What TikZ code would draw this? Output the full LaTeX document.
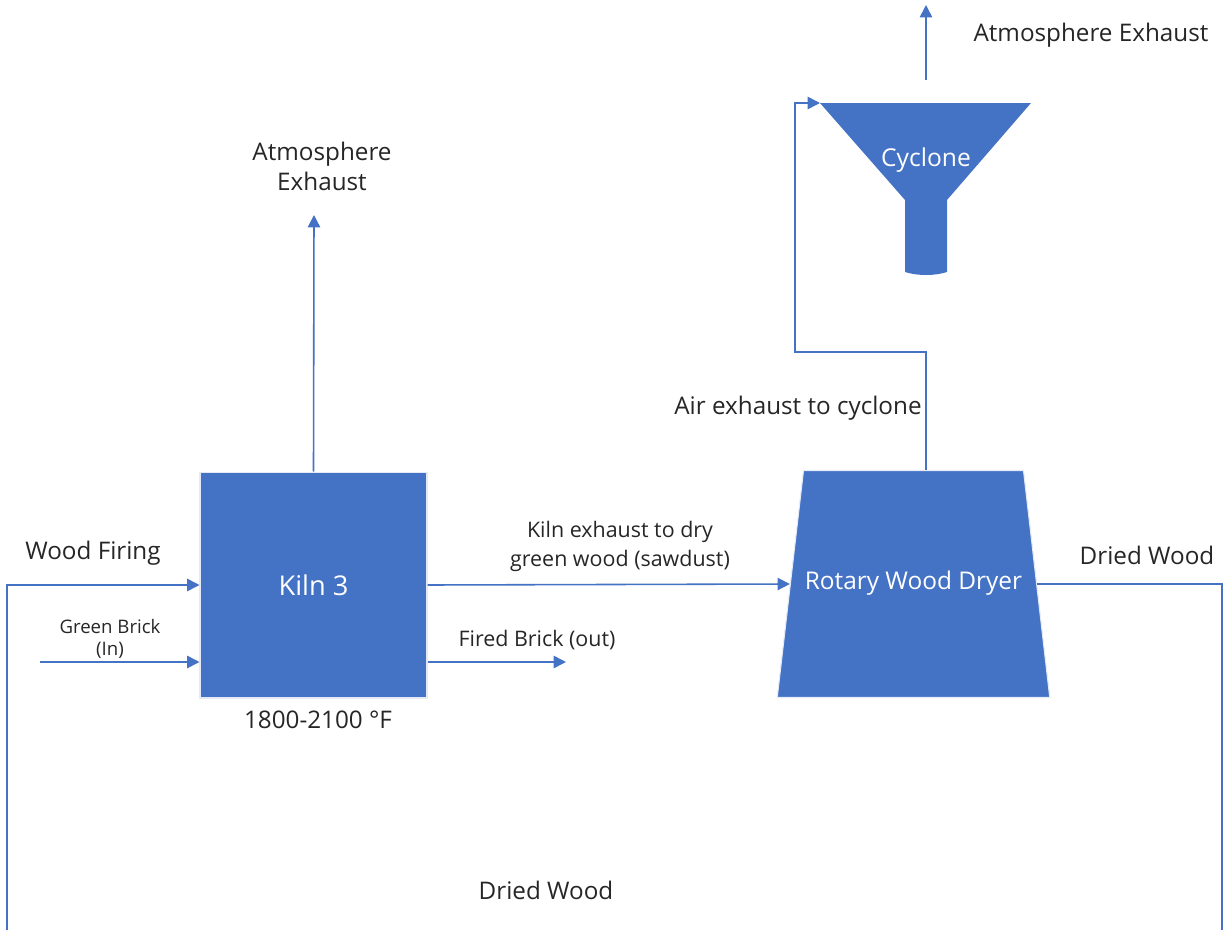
\documentclass[tikz,border=0pt]{standalone}
\usepackage{fontspec}
\setmainfont{Open Sans}
\usetikzlibrary{positioning,calc,arrows.meta,shapes.geometric}
\definecolor{flowblue}{HTML}{4472C4}
\definecolor{flowtext}{HTML}{262626}

\begin{document}
\begin{tikzpicture}[x=0.02cm,y=-0.02cm,
    unit/.style={fill=flowblue,draw=white!85!flowblue,line width=0.6pt,text=white,
                 font=\fontsize{13.9}{16}\selectfont,inner sep=0pt},
    lbl/.style={text=flowtext,font=\fontsize{13.8}{17}\selectfont,align=center,inner sep=1pt},
    smalllbl/.style={lbl,font=\fontsize{12.2}{16.5}\selectfont},
    tinylbl/.style={lbl,font=\fontsize{10.6}{12.8}\selectfont},
    pipe/.style={draw=flowblue,line width=0.9pt},
    flow/.style={pipe,-{Triangle[length=7pt,width=7pt]}},
  ]
  \useasboundingbox (0,0) rectangle (1225,930);

  % process units
  \node[unit,minimum width=4.54cm,minimum height=4.52cm,font=\fontsize{15.5}{18}\selectfont] (kiln) at (313.5,585) {Kiln 3};
  \node[unit,trapezium,trapezium left angle=83.4,trapezium right angle=83.4,
        text height=10pt,text depth=4pt,inner xsep=0pt,inner ysep=57.6pt]
        (dryer) at (913.5,584) {\makebox[4.4cm]{Rotary Wood Dryer}};

  % cyclone funnel
  \fill[flowblue] (820,103) -- (1031,103) -- (947,200) -- (947,272)
      .. controls (935,276) and (917,276) .. (905,272) -- (905,200) -- cycle;
  \node[text=white,font=\fontsize{14}{16}\selectfont,inner sep=0pt] (cyclone) at (926,160) {Cyclone};
  \coordinate (cycl) at (820,103);
  \coordinate (cyctop) at (926,80);
  \coordinate (atmout) at (926,5);

  % labels
  \node[lbl] (atmkiln) at (322,166) {Atmosphere\\Exhaust};
  \node[lbl] (atmcyc) at (1091,35) {Atmosphere Exhaust};
  \node[lbl] (firing) at (93,553) {Wood Firing};
  \node[tinylbl] (green) at (110,639) {Green Brick\\(In)};
  \node[lbl] (temp) at (318,720) {1800-2100 °F};
  \node[smalllbl] (kilnex) at (620,546) {Kiln exhaust to dry\\green wood (sawdust)};
  \node[smalllbl] (fired) at (537,640) {Fired Brick (out)};
  \node[lbl] (airex) at (798,408) {Air exhaust to cyclone};
  \node[lbl] (driedr) at (1147,555) {Dried Wood};
  \node[lbl] (driedb) at (546,890) {Dried Wood};

  % free ends
  \coordinate (kilnout) at (314,215);
  \coordinate (wfbot) at (7,930);
  \coordinate (gbin) at (40,662);
  \coordinate (fbout) at (566,662);
  \coordinate (dwbot) at (1222,930);
  \coordinate (bend) at (795,352);

  % streams
  \draw[flow] (kiln.north) -- (kilnout);
  \draw[flow] (wfbot) |- (kiln.west);
  \draw[flow] (gbin) -- (gbin -| kiln.west);
  \draw[flow] (kiln.east) -- (dryer.west);
  \draw[flow] (fbout -| kiln.east) -- (fbout);
  \draw[pipe] (dryer.east) -| (dwbot);
  \draw[flow] (dryer.north -| cyclone) -- (cyclone |- bend) -- (bend) |- (cycl);
  \draw[flow] (cyctop) -- (atmout);
\end{tikzpicture}
\end{document}
